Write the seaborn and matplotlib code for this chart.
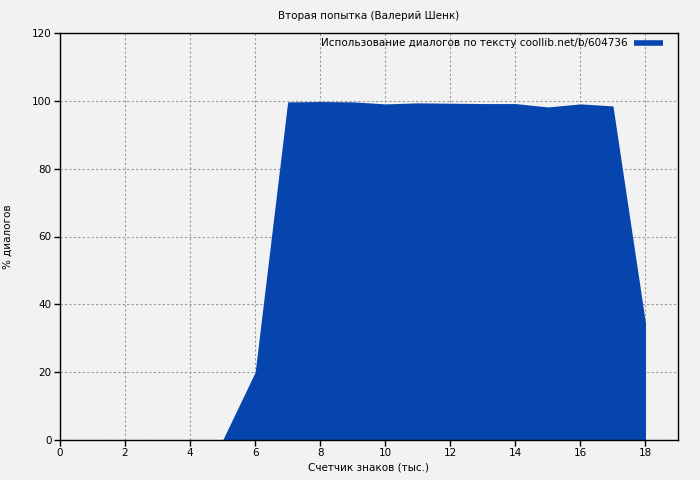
import numpy as np
import pandas as pd
import matplotlib
matplotlib.use("Agg")
import matplotlib.pyplot as plt
import seaborn as sns
from matplotlib.lines import Line2D

# data
chars_k = [5, 6, 7, 8, 9, 10, 11, 12, 13, 14, 15, 16, 17, 18]
pct_dialogs = [0, 20, 99.7, 99.8, 99.7, 99.1, 99.4, 99.3, 99.2, 99.2, 98.2, 99.1, 98.5, 34.5]

title = "Вторая попытка (Валерий Шенк)"
series_label = "Использование диалогов по тексту coollib.net/b/604736"
fill_color = "#0645ad"

df = pd.DataFrame({"x": chars_k, "y": pct_dialogs})

sns.set_theme(style="white")
plt.rcParams["font.family"] = ["DejaVu Sans"]
plt.rcParams["font.size"] = 7.5
plt.rcParams["text.color"] = "black"
plt.rcParams["axes.labelcolor"] = "black"
plt.rcParams["xtick.color"] = "black"
plt.rcParams["ytick.color"] = "black"

fig = plt.figure(figsize=(7, 4.8), dpi=100, facecolor="#f2f2f2")
ax = fig.add_axes([60 / 700, 40 / 480, 618 / 700, 407 / 480])
ax.set_facecolor("#f2f2f2")

sns.lineplot(data=df, x="x", y="y", ax=ax, color=fill_color, linewidth=0)
ax.fill_between(df["x"], 0, df["y"], color=fill_color, linewidth=0, zorder=2)

ax.set_xlim(0, 19)
ax.set_ylim(0, 120)
ax.set_xticks(np.arange(0, 19, 2))
ax.set_yticks(np.arange(0, 121, 20))
ax.grid(True, color="#999999", linestyle=(0, (2, 2)), linewidth=0.8, zorder=0)
ax.set_axisbelow(True)
for s in ax.spines.values():
    s.set_color("black")
    s.set_linewidth(1)
ax.tick_params(axis="both", direction="out", length=4, width=1, color="black",
               labelsize=7.5, bottom=True, left=True, pad=2)

ax.set_title(title, fontsize=7.5, pad=10)
ax.set_xlabel("Счетчик знаков (тыс.)", fontsize=7.5, labelpad=3)
ax.set_ylabel("% диалогов", fontsize=7.5, labelpad=14)

handle = Line2D([0], [0], color=fill_color, linewidth=4, solid_capstyle="butt")
ax.legend([handle], [series_label], loc="upper right", frameon=False,
          markerfirst=False, fontsize=7.5, handlelength=2.8,
          bbox_to_anchor=(0.988, 1.005), borderaxespad=0.3, handletextpad=0.6)

fig.savefig("out.png", dpi=100, facecolor=fig.get_facecolor())
